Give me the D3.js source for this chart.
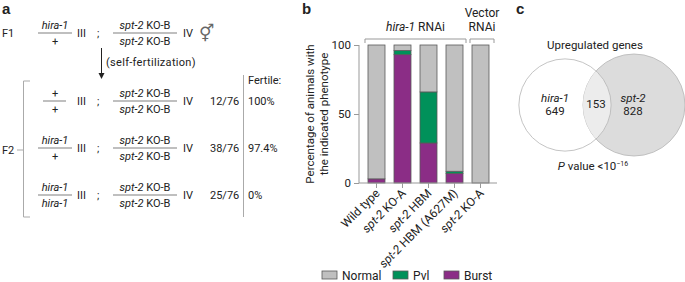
<!DOCTYPE html>
<html>
<head>
<meta charset="utf-8">
<script src="https://cdn.jsdelivr.net/npm/d3@7"></script>
<style>
  body { margin: 0; background: #fff; }
  text { font-family: Roboto, "Noto Sans", sans-serif; fill: #222; }
</style>
</head>
<body>
<div id="chart"></div>
<script>
// ---- data ----
// panel a: genetic cross
const chr3Top = ["hira-1", "+", "hira-1", "hira-1"];
const chr3Bottom = ["+", "+", "+", "hira-1"];
const ratios = ["12/76", "38/76", "25/76"];
const fertile = ["100%", "97.4%", "0%"];

// panel b: phenotype percentages
const categories = ["Wild type", "spt-2 KO-A", "spt-2 HBM", "spt-2 HBM (A627M)", "spt-2 KO-A "];
const burst = [3, 93, 29, 7, 0];
const pvl = [0, 3, 37, 1.5, 0];
const normal = [97, 4, 34, 91.5, 100];
const phenotypes = ["Normal", "Pvl", "Burst"];
const yTicks = [0, 50, 100];

// panel c: venn
const vennNames = ["hira-1", "spt-2"];
const vennOnly = [649, 828];
const vennShared = 153;

const width = 685, height = 282;
const svg = d3.select("#chart").append("svg")
    .attr("width", width)
    .attr("height", height);

// write text with italic gene names: parts = [[text, italic], ...]
function rich(g, x, y, parts, anchor) {
    const t = g.append("text")
        .attr("x", x).attr("y", y)
        .attr("text-anchor", anchor || "start");
    parts.forEach(p => t.append("tspan")
        .style("font-style", p[1] ? "italic" : "normal")
        .text(p[0]));
    return t;
}
function gene(s) {
    // "spt-2 KO-A" -> italic "spt-2" + rest
    const m = s.match(/^(hira-1|spt-2)(.*)$/);
    return m ? [[m[1], true], [m[2], false]] : [[s, false]];
}

// panel labels
[["a", 2], ["b", 302], ["c", 516]].forEach(d => {
    svg.append("text").attr("x", d[1]).attr("y", 14)
        .style("font-weight", "bold").style("font-size", "15px")
        .style("font-family", "Arial Black, Liberation Sans, sans-serif")
        .text(d[0]);
});

// ================= panel a =================
const pa = svg.append("g").style("font-size", "11px");
const rowY = [33, 101, 148, 195];
const lineCol = "#aaa";

function fraction(cx, y, x0, x1, top, bottom) {
    pa.append("line").attr("x1", x0).attr("x2", x1).attr("y1", y).attr("y2", y)
        .attr("stroke", lineCol).attr("stroke-width", 1.5);
    rich(pa, cx, y - 4, gene(top), "middle");
    rich(pa, cx, y + 12, gene(bottom), "middle");
}

rowY.forEach((y, i) => {
    const narrow = chr3Top[i] === "+" && chr3Bottom[i] === "+";
    fraction(55, y, narrow ? 43 : 38, narrow ? 66 : 72, chr3Top[i], chr3Bottom[i]);
    pa.append("text").attr("x", 77).attr("y", y + 4).text("III");
    pa.append("text").attr("x", 97).attr("y", y + 4).text(";");
    fraction(145, y, 113, 177, "spt-2 KO-B", "spt-2 KO-B");
    pa.append("text").attr("x", 183).attr("y", y + 4).text("IV");
    if (i > 0) {
        pa.append("text").attr("x", 210).attr("y", y + 4).text(ratios[i - 1]);
        pa.append("text").attr("x", 248).attr("y", y + 4).text(fertile[i - 1]);
    }
});

pa.append("text").attr("x", 2).attr("y", rowY[0] + 4).text("F1");
pa.append("text").attr("x", 199).attr("y", rowY[0] + 6)
    .style("font-size", "17px").style("font-family", "DejaVu Sans")
    .style("fill", "#666").text("\u26A5");

// self-fertilization arrow
pa.append("line").attr("x1", 101.5).attr("x2", 101.5).attr("y1", 48).attr("y2", 74)
    .attr("stroke", "#222").attr("stroke-width", 1);
pa.append("path").attr("d", "M98.5,73 L104.5,73 L101.5,79 Z").attr("fill", "#222");
pa.append("text").attr("x", 106).attr("y", 66).style("letter-spacing", "0.3px")
    .text("(self-fertilization)");

// F2 bracket
pa.append("path").attr("d", "M30,81 H23.5 V217 H30")
    .attr("fill", "none").attr("stroke", lineCol).attr("stroke-width", 1);
pa.append("line").attr("x1", 17).attr("x2", 23.5).attr("y1", 150).attr("y2", 150)
    .attr("stroke", lineCol);
pa.append("text").attr("x", 2).attr("y", 154).text("F2");

// fertile column
pa.append("line").attr("x1", 243.5).attr("x2", 243.5).attr("y1", 75).attr("y2", 217)
    .attr("stroke", lineCol);
pa.append("text").attr("x", 248).attr("y", 84).text("Fertile:");

// ================= panel b =================
const colors = { Normal: "#c0c0c0", Pvl: "#00915a", Burst: "#8b2d86" };
const table = categories.map((c, i) => ({ cat: c, Burst: burst[i], Pvl: pvl[i], Normal: normal[i] }));
const stacked = d3.stack().keys(["Burst", "Pvl", "Normal"])(table);

const x = d3.scaleBand().domain(categories).range([359, 498]).padding(0.346);
const y = d3.scaleLinear().domain([0, 100]).range([183, 45]);

const pb = svg.append("g");
pb.selectAll("g.layer").data(stacked).enter().append("g")
    .attr("class", "layer")
    .attr("fill", d => colors[d.key])
    .selectAll("rect").data(d => d).enter().append("rect")
    .attr("x", d => x(d.data.cat))
    .attr("width", x.bandwidth())
    .attr("y", d => y(d[1]))
    .attr("height", d => y(d[0]) - y(d[1]))
    .attr("stroke", "#5a5a5a")
    .attr("stroke-width", d => (d[1] - d[0]) > 0 ? 0.8 : 0);

const yAxis = pb.append("g").attr("transform", "translate(359,0)")
    .call(d3.axisLeft(y).tickValues(yTicks).tickSize(5).tickPadding(3));
const xAxis = pb.append("g").attr("transform", "translate(0,183)")
    .call(d3.axisBottom(x).tickSize(5).tickFormat(""));
[yAxis, xAxis].forEach(a => {
    a.select(".domain").attr("stroke", "#999");
    a.selectAll(".tick line").attr("stroke", "#999");
    a.selectAll("text").style("font-size", "11.5px").style("font-family", "Roboto, sans-serif").attr("fill", "#222");
});
xAxis.select(".domain").attr("d", "M359,0H497");
yAxis.select(".domain").attr("d", "M0,45V183");

// rotated category labels
categories.forEach(c => {
    const cx = x(c) + x.bandwidth() / 2;
    rich(pb, 0, 0, gene(c.trim()), "end")
        .attr("transform", `translate(${cx + 4},${194}) rotate(-45)`)
        .style("font-size", "12px");
});

// y label
pb.append("text")
    .attr("transform", "translate(314,114) rotate(-90)")
    .attr("text-anchor", "middle").style("font-size", "11.5px")
    .text("Percentage of animals with");
pb.append("text")
    .attr("transform", "translate(328,114) rotate(-90)")
    .attr("text-anchor", "middle").style("font-size", "11.5px")
    .text("the indicated phenotype");

// group brackets
function bracket(x0, x1) {
    pb.append("path").attr("d", `M${x0},43 V39 H${x1} V43`)
        .attr("fill", "none").attr("stroke", "#999");
}
bracket(x(categories[0]) - 3, x(categories[3]) + x.bandwidth() + 3);
bracket(x(categories[4]) - 2, x(categories[4]) + x.bandwidth() + 5);
rich(pb, (x(categories[0]) + x(categories[3]) + x.bandwidth()) / 2, 31, [["hira-1", true], [" RNAi", false]], "middle")
    .style("font-size", "12px");
pb.append("text").attr("x", x(categories[4]) + x.bandwidth() / 2 + 1.5).attr("y", 17)
    .attr("text-anchor", "middle").style("font-size", "12px").text("Vector");
pb.append("text").attr("x", x(categories[4]) + x.bandwidth() / 2 + 1.5).attr("y", 31)
    .attr("text-anchor", "middle").style("font-size", "12px").text("RNAi");

// legend
const legendX = [322, 393, 444];
const legend = pb.selectAll("g.leg").data(phenotypes).enter().append("g")
    .attr("transform", (d, i) => `translate(${legendX[i]},271)`);
legend.append("rect").attr("width", 15).attr("height", 8)
    .attr("fill", d => colors[d]).attr("stroke", "#5a5a5a").attr("stroke-width", 0.8);
legend.append("text").attr("x", 20).attr("y", 9)
    .style("font-size", "12px").text(d => d);

// ================= panel c =================
const pc = svg.append("g");
const r = d3.scaleSqrt().domain([0, vennOnly[1] + vennShared]).range([0, 51]);
const rL = r(vennOnly[0] + vennShared), rR = r(vennOnly[1] + vennShared);
const cy = 105, cxL = 565, cxR = 634;

pc.append("circle").attr("cx", cxR).attr("cy", cy).attr("r", rR)
    .attr("fill", "#dcdcdc").attr("stroke", "#b5b5b5").attr("stroke-width", 0.8);
pc.append("clipPath").attr("id", "clipR").append("circle")
    .attr("cx", cxR).attr("cy", cy).attr("r", rR);
pc.append("circle").attr("cx", cxL).attr("cy", cy).attr("r", rL)
    .attr("fill", "#ececec").attr("clip-path", "url(#clipR)");
pc.append("circle").attr("cx", cxL).attr("cy", cy).attr("r", rL)
    .attr("fill", "none").attr("stroke", "#b5b5b5").attr("stroke-width", 0.8);

pc.append("text").attr("x", 595).attr("y", 49).attr("text-anchor", "middle")
    .style("font-size", "11.5px").text("Upregulated genes");
pc.append("text").attr("x", 555).attr("y", 102).attr("text-anchor", "middle")
    .style("font-size", "11.5px").style("font-style", "italic").text(vennNames[0]);
pc.append("text").attr("x", 555).attr("y", 115).attr("text-anchor", "middle")
    .style("font-size", "11.5px").text(vennOnly[0]);
pc.append("text").attr("x", 633).attr("y", 102).attr("text-anchor", "middle")
    .style("font-size", "11.5px").style("font-style", "italic").text(vennNames[1]);
pc.append("text").attr("x", 633).attr("y", 115).attr("text-anchor", "middle")
    .style("font-size", "11.5px").text(vennOnly[1]);
pc.append("text").attr("x", 596).attr("y", 108).attr("text-anchor", "middle")
    .style("font-size", "11.5px").text(vennShared);

const pv = pc.append("text").attr("x", 593).attr("y", 170).attr("text-anchor", "middle")
    .style("font-size", "11.5px");
pv.append("tspan").style("font-style", "italic").text("P");
pv.append("tspan").text(" value <10");
pv.append("tspan").attr("dy", -4).style("font-size", "7px").text("\u221216");
</script>
</body>
</html>
